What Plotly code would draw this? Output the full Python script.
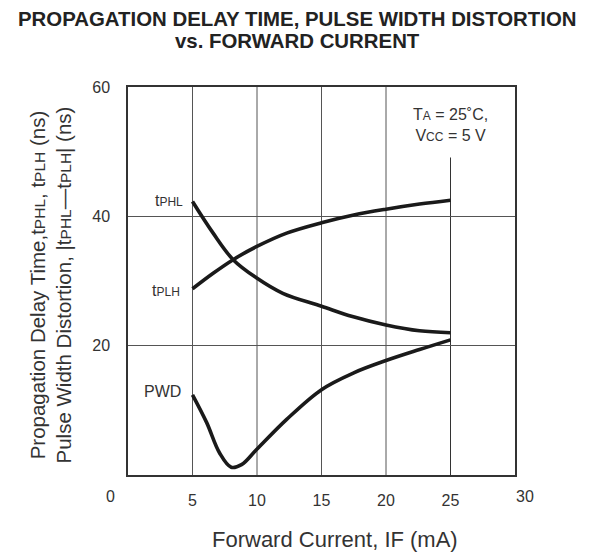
import plotly.graph_objects as go

# Data
i_phl = [5.0, 6.6, 8.15, 9.95, 12.0, 15.0, 17.4, 20.0, 22.6, 25.0]
t_phl = [42.3, 37.4, 33.3, 30.5, 28.1, 26.1, 24.5, 23.2, 22.3, 22.0]

i_plh = [5.0, 6.6, 8.15, 9.95, 12.3, 15.0, 17.5, 20.0, 22.6, 25.0]
t_plh = [28.8, 31.2, 33.3, 35.3, 37.4, 39.0, 40.2, 41.1, 41.9, 42.5]

i_pwd = [5.0, 6.1, 7.1, 8.0, 8.8, 9.95, 12.3, 15.0, 17.5, 20.0, 22.6, 25.0]
t_pwd = [12.4, 8.1, 3.4, 1.2, 1.6, 3.9, 8.6, 13.2, 15.8, 17.7, 19.4, 20.9]

x_ticks = [5, 10, 15, 20, 25]
x_end_labels = ["0", "30"]
y_ticks = [20, 40, 60]
x_grid = [5, 10, 15, 20]
grid25_top = 49.1

FONT = "Liberation Sans, Arial, sans-serif"
TXT = "#333333"


def sm(s, size=12):
    return '<span style="font-size:%spx">%s</span>' % (size, s)


fig = go.Figure()
for xs, ys in [(i_phl, t_phl), (i_plh, t_plh), (i_pwd, t_pwd)]:
    fig.add_trace(go.Scatter(x=xs, y=ys, mode="lines",
                             line=dict(color="#1a1a1a", width=3.6, shape="spline", smoothing=1.0),
                             hoverinfo="skip", showlegend=False))

shapes = []
for v in x_grid:
    shapes.append(dict(type="line", xref="x", yref="y", x0=v, x1=v, y0=0, y1=60,
                       line=dict(color="#555555", width=1), layer="below"))
shapes.append(dict(type="line", xref="x", yref="y", x0=25, x1=25, y0=0, y1=grid25_top,
                   line=dict(color="#333333", width=1), layer="below"))

ann = [
    # title lines
    dict(x=0.5, y=1, xref="paper", yref="paper", text="<b>PROPAGATION DELAY TIME, PULSE WIDTH DISTORTION</b>",
         showarrow=False, xanchor="center", yanchor="middle", xshift=-24, yshift=68,
         font=dict(size=20.4, color="#222222")),
    dict(x=0.5, y=1, xref="paper", yref="paper", text="<b>vs. FORWARD CURRENT</b>",
         showarrow=False, xanchor="center", yanchor="middle", xshift=-24, yshift=46,
         font=dict(size=20.4, color="#222222")),
    # curve labels
    dict(x=5, y=t_phl[0], xref="x", yref="y", text="t" + sm("PHL"), showarrow=False,
         xanchor="right", xshift=-8, yshift=1, font=dict(size=16, color=TXT)),
    dict(x=5, y=t_plh[0], xref="x", yref="y", text="t" + sm("PLH"), showarrow=False,
         xanchor="right", xshift=-11, yshift=-1.5, font=dict(size=16, color=TXT)),
    dict(x=5, y=t_pwd[0], xref="x", yref="y", text="PWD", showarrow=False,
         xanchor="right", xshift=-10, yshift=3, font=dict(size=16, color=TXT)),
    # conditions
    dict(x=25, y=60, xref="x", yref="y",
         text="T" + sm("A") + " = 25˚C,<br>V" + sm("CC") + " = 5 V",
         showarrow=False, xanchor="center", yanchor="middle", yshift=-38, align="center",
         font=dict(size=16, color=TXT)),
    # end tick labels 0 and 30
    dict(x=0, y=0, xref="x", yref="y", text=x_end_labels[0], showarrow=False, xanchor="center",
         yanchor="middle", xshift=-18, yshift=-21, font=dict(size=16, color=TXT)),
    dict(x=30, y=0, xref="x", yref="y", text=x_end_labels[1], showarrow=False, xanchor="center",
         yanchor="middle", xshift=10, yshift=-21, font=dict(size=16, color=TXT)),
    # axis titles
    dict(x=0.5, y=0, xref="paper", yref="paper", text="Forward Current, IF (mA)",
         showarrow=False, xanchor="center", yanchor="middle", xshift=13, yshift=-64,
         font=dict(size=22, color=TXT)),
    dict(x=0, y=0.5, xref="paper", yref="paper", textangle=-90,
         text="Propagation Delay Time,t" + sm("PHL", 15.5) + ", t" + sm("PLH", 15.5)
              + " (ns)<br>Pulse Width Distortion, |t" + sm("PHL", 15.5) + "—t" + sm("PLH", 15.5) + "| (ns)",
         showarrow=False, xanchor="center", yanchor="middle", xshift=-77.5, yshift=-4,
         font=dict(size=20.5, color=TXT)),
]

fig.update_layout(
    width=589, height=544,
    margin=dict(l=120, r=82, t=79, b=77, autoexpand=False),
    paper_bgcolor="white", plot_bgcolor="white",
    font=dict(family=FONT, color=TXT),
    shapes=shapes, annotations=ann,
    xaxis=dict(range=[0, 30], tickvals=x_ticks, showgrid=False, zeroline=False, automargin=False,
               showline=True, mirror=True, linecolor="#333333", linewidth=1.5,
               ticks="", ticklabelstandoff=10, tickfont=dict(size=16, color=TXT)),
    yaxis=dict(range=[0, 60], tickvals=y_ticks, showgrid=True, gridcolor="#555555", gridwidth=1,
               zeroline=False, showline=True, mirror=True, linecolor="#333333", linewidth=1.5,
               automargin=False, ticks="", ticklabelstandoff=13, tickfont=dict(size=16, color=TXT)),
)

fig.write_html("out.html")
